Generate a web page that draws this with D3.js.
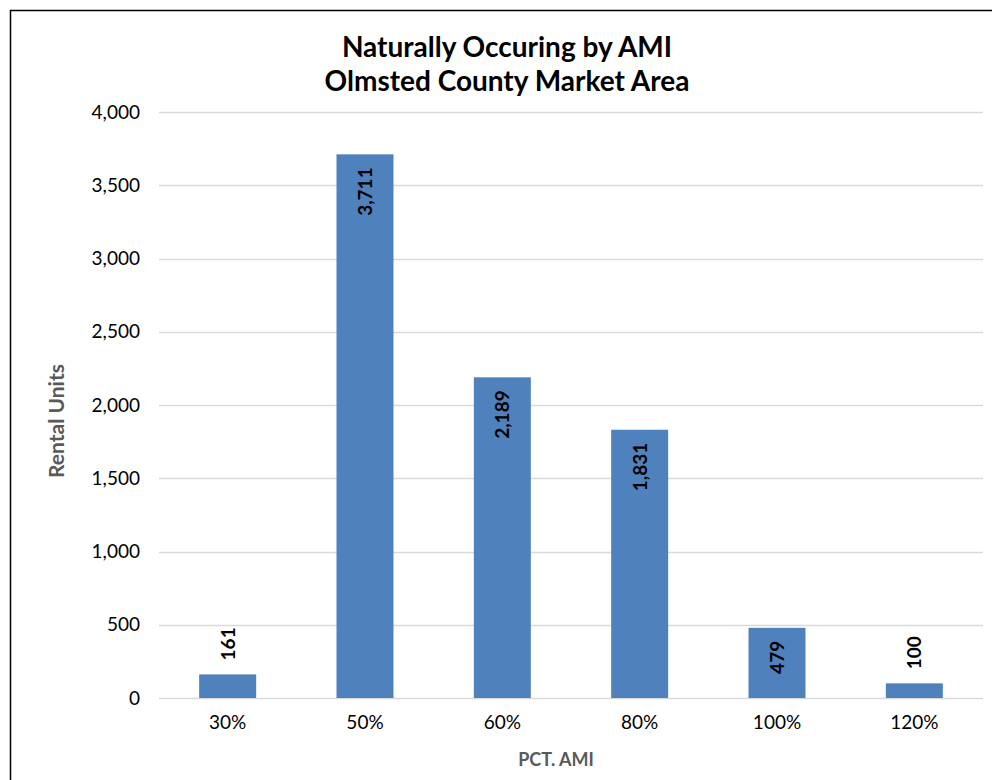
<!DOCTYPE html>
<html>
<head>
<meta charset="utf-8">
<script src="https://cdn.jsdelivr.net/npm/d3@7"></script>
<style>
  body { margin: 0; background: #fff; }
  svg { display: block; font-family: Lato, "Open Sans", sans-serif; }
</style>
</head>
<body>
<div id="chart"></div>
<script>
// data
const categories = ["30%", "50%", "60%", "80%", "100%", "120%"];
const units = [161, 3711, 2189, 1831, 479, 100];
const yTicks = [0, 500, 1000, 1500, 2000, 2500, 3000, 3500, 4000];
const titleLines = ["Naturally Occuring by AMI", "Olmsted County Market Area"];

const width = 992, height = 780;
const margin = {left: 159, right: 9, top: 112, bottom: 82};

const svg = d3.select("#chart").append("svg")
    .attr("width", width)
    .attr("height", height);

// outer frame
svg.append("rect")
    .attr("x", 10.5).attr("y", 10.5)
    .attr("width", 1000).attr("height", 800)
    .attr("fill", "none")
    .attr("stroke", "#000")
    .attr("stroke-width", 1.5);

const x = d3.scaleBand()
    .domain(categories)
    .range([margin.left, width - margin.right])
    .paddingInner(0.585)
    .paddingOuter(0.2925);

const y = d3.scaleLinear()
    .domain([0, 4000])
    .range([height - margin.bottom, margin.top]);

// gridlines
svg.append("g")
    .selectAll("line")
    .data(yTicks)
    .join("line")
    .attr("x1", margin.left)
    .attr("x2", width - margin.right)
    .attr("y1", d => Math.round(y(d)) + 0.5)
    .attr("y2", d => Math.round(y(d)) + 0.5)
    .attr("stroke", "#d9d9d9")
    .attr("stroke-width", 1.5);

// y axis labels
const yAxis = d3.axisLeft(y)
    .tickValues(yTicks)
    .tickFormat(d3.format(","))
    .tickSize(0)
    .tickPadding(19);

svg.append("g")
    .attr("transform", `translate(${margin.left},0)`)
    .call(yAxis)
    .call(g => g.select(".domain").remove())
    .call(g => g.selectAll("text")
        .attr("font-family", "Lato, sans-serif")
        .attr("font-size", 19)
        .attr("fill", "#000"));

// x axis labels
const xAxis = d3.axisBottom(x).tickSize(0).tickPadding(18);
svg.append("g")
    .attr("transform", `translate(0,${height - margin.bottom})`)
    .call(xAxis)
    .call(g => g.select(".domain").remove())
    .call(g => g.selectAll("text")
        .attr("font-family", "Lato, sans-serif")
        .attr("font-size", 19)
        .attr("fill", "#000"));

// bars
svg.append("g")
    .selectAll("rect")
    .data(units)
    .join("rect")
    .attr("x", (d, i) => x(categories[i]))
    .attr("y", d => y(d))
    .attr("width", x.bandwidth())
    .attr("height", d => y(0) - y(d))
    .attr("fill", "#4f81bd");

// value labels, rotated; inside end when it fits, else above the bar
svg.append("g")
    .selectAll("text")
    .data(units)
    .join("text")
    .attr("transform", (d, i) => {
        let cx = x(categories[i]) + x.bandwidth() / 2;
        let h = y(0) - y(d);
        let ty = h > 60 ? y(d) + 13 : y(d) - 14;
        return `translate(${cx + 7},${ty}) rotate(-90)`;
    })
    .attr("text-anchor", d => (y(0) - y(d)) > 60 ? "end" : "start")
    .attr("font-size", 19)
    .attr("font-weight", "bold")
    .attr("fill", "#000")
    .text(d => d3.format(",")(d));

// title
svg.append("g")
    .selectAll("text")
    .data(titleLines)
    .join("text")
    .attr("x", 507)
    .attr("y", (d, i) => 57 + i * 34)
    .attr("text-anchor", "middle")
    .attr("font-size", 28)
    .attr("font-weight", "bold")
    .attr("fill", "#000")
    .text(d => d);

// axis titles
svg.append("text")
    .attr("transform", "translate(64,421) rotate(-90)")
    .attr("text-anchor", "middle")
    .attr("font-size", 21)
    .attr("font-weight", "bold")
    .attr("fill", "#595959")
    .text("Rental Units");

svg.append("text")
    .attr("x", 556)
    .attr("y", 766)
    .attr("text-anchor", "middle")
    .attr("font-size", 18)
    .attr("font-weight", "bold")
    .attr("fill", "#595959")
    .text("PCT. AMI");
</script>
</body>
</html>
